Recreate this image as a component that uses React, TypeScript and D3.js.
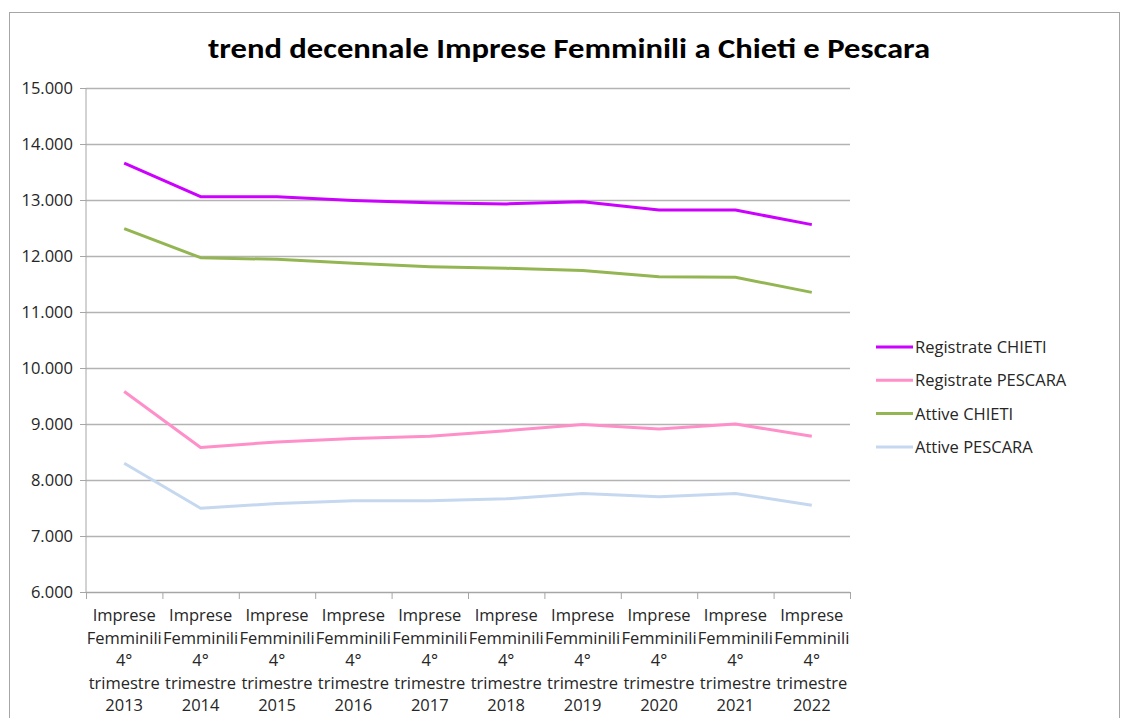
import {useEffect, useRef} from "react";
import * as d3 from "d3";

const years = ["2013", "2014", "2015", "2016", "2017", "2018", "2019", "2020", "2021", "2022"];
const registrateChieti = [13660, 13060, 13060, 12990, 12950, 12930, 12970, 12820, 12820, 12560];
const registratePescara = [9580, 8580, 8680, 8740, 8780, 8880, 8990, 8910, 9000, 8780];
const attiveChieti = [12490, 11970, 11940, 11870, 11810, 11780, 11740, 11630, 11620, 11350];
const attivePescara = [8300, 7495, 7580, 7630, 7630, 7665, 7760, 7700, 7760, 7550];
const yTicks = [6000, 7000, 8000, 9000, 10000, 11000, 12000, 13000, 14000, 15000];

const series = [
    {name: "Registrate CHIETI", values: registrateChieti, color: "#cc00ff"},
    {name: "Registrate PESCARA", values: registratePescara, color: "#ff8fc8"},
    {name: "Attive CHIETI", values: attiveChieti, color: "#93b652"},
    {name: "Attive PESCARA", values: attivePescara, color: "#c5d8f0"},
];

const W = 1122, H = 718;
const plot = {left: 86, right: 850, top: 88, bottom: 592};
const titleFont = "Carlito, Calibri, 'Open Sans', sans-serif";
const font = "'Open Sans', 'Noto Sans', sans-serif";

const App = () => {
    const ref = useRef<SVGSVGElement>(null);

    useEffect(() => {
        const svg = d3.select(ref.current);
        svg.selectAll("*").remove();

        const x = d3.scaleBand().domain(years).range([plot.left, plot.right]);
        const y = d3.scaleLinear().domain([6000, 15000]).range([plot.bottom, plot.top]);
        const fmt = (v: number) => d3.format(",")(v).replace(/,/g, ".");

        svg.append("rect").attr("x", 9.5).attr("y", 12.5).attr("width", 1110).attr("height", 720)
            .attr("fill", "white").attr("stroke", "#a6a6a6");

        svg.append("text").attr("x", 569).attr("y", 58).attr("text-anchor", "middle")
            .attr("font-family", titleFont).attr("font-weight", "bold").attr("font-size", 29)
            .attr("textLength", 722).attr("lengthAdjust", "spacingAndGlyphs")
            .text("trend decennale Imprese Femminili a Chieti e Pescara");

        // gridlines
        svg.append("g").selectAll("line").data(yTicks.slice(1)).enter().append("line")
            .attr("x1", plot.left).attr("x2", plot.right)
            .attr("y1", d => Math.round(y(d)) + 0.5).attr("y2", d => Math.round(y(d)) + 0.5)
            .attr("stroke", "#b3b3b3").attr("stroke-width", 1.3);

        // y axis
        const ya = svg.append("g").attr("transform", `translate(${plot.left},0)`)
            .call(d3.axisLeft(y).tickValues(yTicks).tickSize(6).tickPadding(7).tickFormat(d => fmt(+d)));
        ya.select(".domain").attr("stroke", "#a6a6a6").attr("d", `M0,${plot.top}V${plot.bottom}`);
        ya.selectAll(".tick line").attr("stroke", "#a6a6a6");
        ya.selectAll(".tick text").attr("font-family", font).attr("font-size", 16.5).attr("fill", "#262626");

        // x axis
        const xa = svg.append("g").attr("transform", `translate(0,${plot.bottom})`);
        xa.append("line").attr("x1", plot.left).attr("x2", plot.right).attr("y1", 0.5).attr("y2", 0.5)
            .attr("stroke", "#a6a6a6").attr("stroke-width", 1.3);
        const bounds = years.map(d => x(d)!).concat([plot.right]);
        xa.selectAll("line.tk").data(bounds).enter().append("line").attr("class", "tk")
            .attr("x1", d => d + 0.5).attr("x2", d => d + 0.5).attr("y1", 0).attr("y2", 7)
            .attr("stroke", "#a6a6a6");
        const lbl = xa.selectAll("text").data(years).enter().append("text")
            .attr("text-anchor", "middle").attr("font-family", font).attr("font-size", 16.5).attr("fill", "#262626");
        ["Imprese", "Femminili", "4°", "trimestre", null].forEach((line, i) => {
            lbl.append("tspan").attr("x", d => x(d)! + x.bandwidth() / 2).attr("y", 29 + i * 22.6)
                .text(d => line === null ? d : line);
        });

        // lines
        const line = d3.line<number>().x((_, i) => x(years[i])! + x.bandwidth() / 2).y(d => y(d));
        series.forEach(s => {
            svg.append("path").datum(s.values).attr("d", line).attr("fill", "none")
                .attr("stroke", s.color).attr("stroke-width", 3).attr("stroke-linejoin", "round");
        });

        // legend
        const lg = svg.append("g").selectAll("g").data(series).enter().append("g")
            .attr("transform", (_, i) => `translate(876,${347 + i * 33.3})`);
        lg.append("line").attr("x1", 0).attr("x2", 37).attr("stroke", d => d.color).attr("stroke-width", 3);
        lg.append("text").attr("x", 39).attr("y", 6).attr("font-family", font).attr("font-size", 16.5)
            .attr("fill", "#262626").text(d => d.name);
    }, []);

    return <svg ref={ref} width={W} height={H} style={{position: "absolute", left: 0, top: 0}}/>;
};

export default App;
